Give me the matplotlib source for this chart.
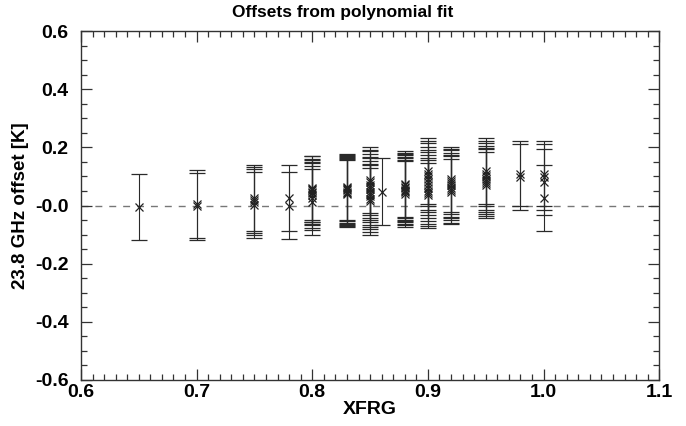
import matplotlib
matplotlib.use("Agg")
import matplotlib.pyplot as plt
from matplotlib.ticker import MultipleLocator

plt.rcParams['font.family'] = ['Liberation Sans', 'DejaVu Sans']
plt.rcParams['font.weight'] = 'bold'

# ---- data ----
xfrg = ([0.65] + [0.70]*2 + [0.75]*4 + [0.78]*2 + [0.80]*8 + [0.83]*7 +
        [0.85]*10 + [0.86] + [0.88]*8 + [0.90]*10 + [0.92]*7 + [0.95]*7 +
        [0.98]*2 + [1.00]*4)
offset = ([-0.006] +
          [0.005, -0.003] +
          [0.027, 0.019, 0.011, 0.002] +
          [0.027, 0.000] +
          [0.062, 0.057, 0.052, 0.047, 0.042, 0.035, 0.025, 0.012] +
          [0.064, 0.060, 0.056, 0.052, 0.048, 0.044, 0.040] +
          [0.088, 0.080, 0.072, 0.064, 0.056, 0.048, 0.040, 0.032, 0.024, 0.015] +
          [0.048] +
          [0.075, 0.070, 0.065, 0.060, 0.055, 0.050, 0.045, 0.040] +
          [0.120, 0.110, 0.100, 0.090, 0.080, 0.070, 0.060, 0.050, 0.042, 0.035] +
          [0.090, 0.083, 0.076, 0.069, 0.062, 0.055, 0.048] +
          [0.120, 0.110, 0.100, 0.092, 0.085, 0.078, 0.070] +
          [0.110, 0.099] +
          [0.110, 0.099, 0.081, 0.026])
sigma = ([0.114] +
         [0.116, 0.115] +
         [0.113, 0.113, 0.113, 0.113] +
         [0.114, 0.115] +
         [0.110, 0.112, 0.108, 0.111, 0.109, 0.112, 0.110, 0.113] +
         [0.115, 0.114, 0.116, 0.115, 0.114, 0.116, 0.115] +
         [0.113, 0.112, 0.114, 0.113, 0.112, 0.114, 0.113, 0.112, 0.114, 0.115] +
         [0.115] +
         [0.113, 0.112, 0.114, 0.113, 0.112, 0.114, 0.113, 0.113] +
         [0.113, 0.112, 0.114, 0.113, 0.112, 0.114, 0.113, 0.112, 0.114, 0.113] +
         [0.113, 0.112, 0.114, 0.113, 0.112, 0.114, 0.113] +
         [0.114, 0.113, 0.115, 0.114, 0.113, 0.115, 0.114] +
         [0.112, 0.114] +
         [0.112, 0.114, 0.115, 0.115])

xticks = [0.6, 0.7, 0.8, 0.9, 1.0, 1.1]
xticklabels = ['0.6', '0.7', '0.8', '0.9', '1.0', '1.1']
yticks = [0.6, 0.4, 0.2, 0.0, -0.2, -0.4, -0.6]
yticklabels = ['0.6', '0.4', '0.2', '-0.0', '-0.2', '-0.4', '-0.6']

# ---- figure ----
fig = plt.figure(figsize=(6.86, 4.26), dpi=100)
ax = fig.add_axes([0.118, 0.108, 0.843, 0.819])

ax.axhline(0.0, color='#777777', lw=1.0, ls=(0, (5, 5)), zorder=1)
line, caps, bars = ax.errorbar(xfrg, offset, yerr=sigma, fmt='x', color='#222222',
                               ecolor='#2a2a2a', elinewidth=0.8, capsize=5.5,
                               capthick=0.7, markersize=6, markeredgewidth=0.9,
                               zorder=2)
for c in caps:
    c.set_color('#666666')

ax.set_xlim(0.6, 1.1)
ax.set_ylim(-0.6, 0.6)
ax.set_xticks(xticks, xticklabels)
ax.set_yticks(yticks, yticklabels)
ax.xaxis.set_minor_locator(MultipleLocator(0.01))
ax.yaxis.set_minor_locator(MultipleLocator(0.05))
ax.tick_params(which='both', direction='in', top=True, right=True,
               width=0.9, color='#333333', labelsize=14)
ax.tick_params(which='major', length=8)
ax.tick_params(which='minor', length=4)
ax.tick_params(axis='x', pad=3)
ax.tick_params(axis='y', pad=9)
for s in ax.spines.values():
    s.set_linewidth(1.0)
    s.set_color('#333333')

fig.suptitle('Offsets from polynomial fit', x=0.5, y=0.988, va='top',
             fontsize=12.5, fontweight='bold')
ax.set_xlabel('XFRG', fontsize=14, fontweight='bold', labelpad=0)
ax.set_ylabel('23.8 GHz offset [K]', fontsize=13.5, fontweight='bold', labelpad=4)

fig.savefig('out.png', dpi=100)
